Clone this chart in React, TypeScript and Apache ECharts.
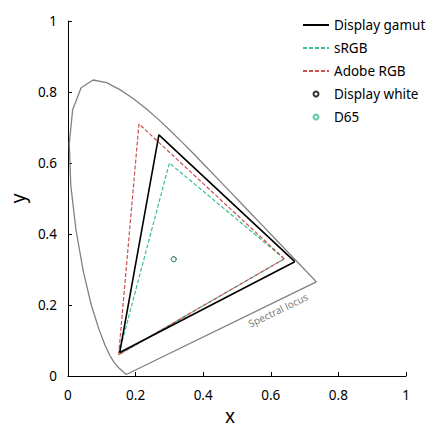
import React, { useEffect, useRef } from "react";
import * as echarts from "echarts";

// CIE 1931 spectral locus (chromaticity x, y), 380–700 nm
const locusX = [0.1741, 0.1740, 0.1738, 0.1736, 0.1733, 0.1730, 0.1726, 0.1721, 0.1714, 0.1703, 0.1689, 0.1669, 0.1644, 0.1611, 0.1566, 0.1510, 0.1440, 0.1355, 0.1241, 0.1096, 0.0913, 0.0687, 0.0454, 0.0235, 0.0082, 0.0039, 0.0139, 0.0389, 0.0743, 0.1142, 0.1547, 0.1929, 0.2296, 0.2658, 0.3016, 0.3373, 0.3731, 0.4087, 0.4441, 0.4788, 0.5125, 0.5448, 0.5752, 0.6029, 0.6270, 0.6482, 0.6658, 0.6801, 0.6915, 0.7006, 0.7079, 0.7140, 0.7190, 0.7230, 0.7260, 0.7283, 0.7300, 0.7311, 0.7320, 0.7334, 0.7347];
const locusY = [0.0050, 0.0050, 0.0049, 0.0049, 0.0048, 0.0048, 0.0048, 0.0048, 0.0051, 0.0058, 0.0069, 0.0086, 0.0109, 0.0138, 0.0177, 0.0227, 0.0297, 0.0399, 0.0578, 0.0868, 0.1327, 0.2007, 0.2950, 0.4127, 0.5384, 0.6548, 0.7502, 0.8120, 0.8338, 0.8262, 0.8059, 0.7816, 0.7543, 0.7243, 0.6923, 0.6589, 0.6245, 0.5896, 0.5547, 0.5202, 0.4866, 0.4544, 0.4242, 0.3965, 0.3725, 0.3514, 0.3340, 0.3197, 0.3083, 0.2993, 0.2920, 0.2859, 0.2809, 0.2770, 0.2740, 0.2717, 0.2700, 0.2689, 0.2680, 0.2666, 0.2653];

// Primaries: red, green, blue (x, y)
const displayX = [0.671, 0.269, 0.153];
const displayY = [0.322, 0.679, 0.066];
const srgbX = [0.64, 0.30, 0.15];
const srgbY = [0.33, 0.60, 0.06];
const adobeX = [0.64, 0.21, 0.15];
const adobeY = [0.33, 0.71, 0.06];

const displayWhite = [0.313, 0.329];
const d65 = [0.3127, 0.329];

const legendNames = ["Display gamut", "sRGB", "Adobe RGB", "Display white", "D65"];

const closed = (xs: number[], ys: number[]) => {
  const pts = xs.map((x, i) => [x, ys[i]]);
  pts.push(pts[0]);
  return pts;
};

const FONT = "Noto Sans";
const TEAL = "#3cbd98";
const RED = "#c8504d";

export default function App() {
  const ref = useRef<HTMLDivElement>(null);
  useEffect(() => {
    if (!ref.current) return;
    const chart = echarts.init(ref.current, null, { renderer: "svg" });
    const axisCommon = {
      type: "value" as const,
      min: 0,
      max: 1,
      interval: 0.2,
      nameLocation: "middle" as const,
      nameTextStyle: { fontFamily: FONT, fontSize: 19, color: "#000" },
      axisLine: { show: true, lineStyle: { color: "#000", width: 1 } },
      axisTick: { show: true, inside: true, length: 4, lineStyle: { color: "#000" } },
      splitLine: { show: false },
      axisLabel: {
        fontFamily: FONT,
        fontSize: 13.5,
        color: "#000",
        formatter: (v: number) => String(Number(v.toFixed(1))),
      },
    };
    chart.setOption({
      animation: false,
      backgroundColor: "#fff",
      grid: { left: 65, right: 28, top: 21, bottom: 58, containLabel: false },
      xAxis: {
        ...axisCommon,
        name: "x",
        nameGap: 30,
        nameTextStyle: { ...axisCommon.nameTextStyle, padding: [0, 14, 0, 0] },
        axisLabel: { ...axisCommon.axisLabel, margin: 12 },
      },
      yAxis: { ...axisCommon, name: "y", nameGap: 34, axisLabel: { ...axisCommon.axisLabel, margin: 11 } },
      legend: {
        orient: "vertical",
        left: 297,
        top: 13,
        itemWidth: 26,
        itemHeight: 5,
        itemGap: 9,
        textStyle: { fontFamily: FONT, fontSize: 13.5, color: "#000" },
        data: legendNames.map((name, i) =>
          i < 3 ? { name, itemStyle: { opacity: 0 } } : { name }
        ),
      },
      series: [
        {
          name: "Spectral locus",
          type: "line",
          data: closed(locusX, locusY),
          symbol: "none",
          lineStyle: { color: "#808080", width: 1.3 },
          z: 1,
        },
        {
          name: "Display gamut",
          type: "line",
          data: closed(displayX, displayY),
          symbol: "none",
          lineStyle: { color: "#000", width: 1.6 },
          itemStyle: { color: "#000" },
          z: 4,
        },
        {
          name: "sRGB",
          type: "line",
          data: closed(srgbX, srgbY),
          symbol: "none",
          lineStyle: { color: TEAL, width: 1.2, type: [4, 2] },
          itemStyle: { color: TEAL },
          z: 3,
        },
        {
          name: "Adobe RGB",
          type: "line",
          data: closed(adobeX, adobeY),
          symbol: "none",
          lineStyle: { color: RED, width: 1.2, type: [4, 2] },
          itemStyle: { color: RED },
          z: 3,
        },
        {
          name: "Display white",
          type: "scatter",
          data: [displayWhite],
          symbol: "circle",
          symbolSize: 5,
          itemStyle: { color: "rgba(0,0,0,0)", borderColor: "#000", borderWidth: 1 },
          z: 5,
        },
        {
          name: "D65",
          type: "scatter",
          data: [d65],
          symbol: "circle",
          symbolSize: 5,
          itemStyle: { color: "rgba(0,0,0,0)", borderColor: TEAL, borderWidth: 1, opacity: 0.8 },
          z: 6,
        },
      ],
      graphic: [
        {
          type: "text",
          x: 278,
          y: 310,
          rotation: 0.45,
          style: {
            text: "Spectral locus",
            fontFamily: FONT,
            fontSize: 10,
            fill: "#808080",
            align: "center",
            verticalAlign: "middle",
          },
        },
      ],
    });
    return () => chart.dispose();
  }, []);
  return (
    <div
      ref={ref}
      style={{ position: "fixed", left: 0, top: 0, width: 434, height: 434 }}
    />
  );
}
